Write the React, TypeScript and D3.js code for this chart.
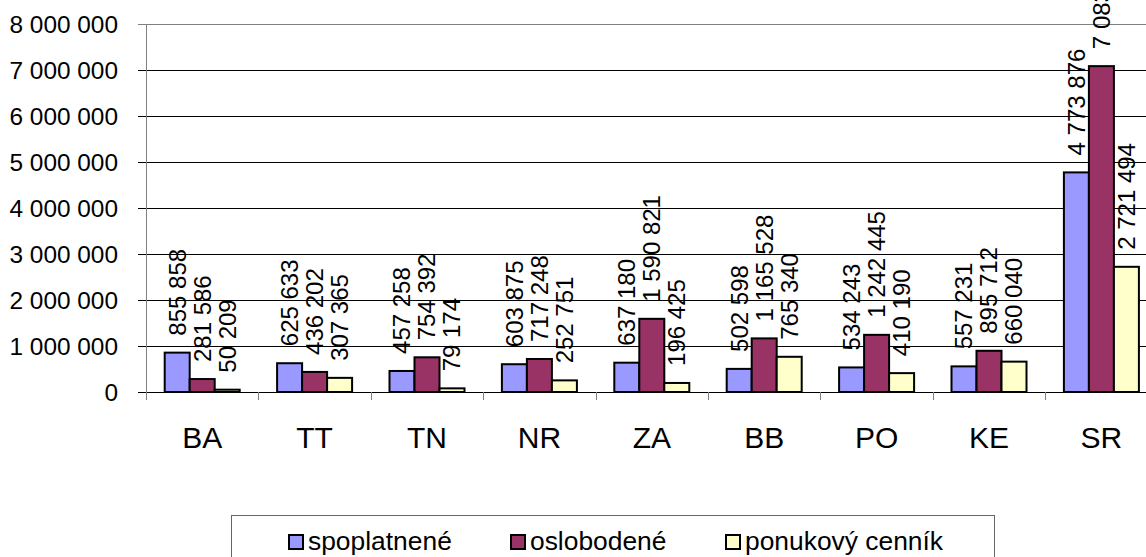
import * as d3 from "d3";

const categories = ["BA", "TT", "TN", "NR", "ZA", "BB", "PO", "KE", "SR"];
const seriesNames = ["spoplatnené", "oslobodené", "ponukový cenník"];
const spoplatnene = [855858, 625633, 457258, 603875, 637180, 502598, 534243, 557231, 4773876];
const oslobodene = [281586, 436202, 754392, 717248, 1590821, 1165528, 1242445, 895712, 7083934];
const ponukovy = [50209, 307365, 79174, 252751, 196425, 765340, 410190, 660040, 2721494];
const yTicks = [0, 1000000, 2000000, 3000000, 4000000, 5000000, 6000000, 7000000, 8000000];

const colors = ["#9999FF", "#993366", "#FFFFCC"];
const font = "'Liberation Sans', Arial, sans-serif";

const W = 1146;
const H = 557;
const plot = { left: 146, top: 24, bottom: 392, catWidth: 112.4 };

// thousands separated by a space, like the source
const fmt = (v: number) => d3.format(",")(v).replace(/,/g, " ");

export default function App() {
  const series = [spoplatnene, oslobodene, ponukovy];

  const x0 = d3
    .scaleBand<string>()
    .domain(categories)
    .range([plot.left, plot.left + plot.catWidth * categories.length])
    .padding(0);

  const x1 = d3
    .scaleBand<number>()
    .domain([0, 1, 2])
    .range([18.7, plot.catWidth - 18.7])
    .padding(0);

  const y = d3.scaleLinear().domain([0, 8000000]).range([plot.bottom, plot.top]);

  const legendX = [289, 511, 726];

  return (
    <svg
      width={W}
      height={H}
      style={{ position: "absolute", left: 0, top: 0, background: "#fff" }}
      fontFamily={font}
    >
      {/* gridlines */}
      {yTicks.map((t) => (
        <line
          key={`g${t}`}
          x1={plot.left - 8}
          x2={W}
          y1={Math.round(y(t)) + 0.5}
          y2={Math.round(y(t)) + 0.5}
          stroke={t === 8000000 ? "#808080" : "#000"}
          strokeWidth={1}
        />
      ))}

      {/* y axis */}
      <line
        x1={plot.left + 0.5}
        x2={plot.left + 0.5}
        y1={plot.top}
        y2={plot.bottom + 8}
        stroke="#808080"
      />
      {yTicks.map((t) => (
        <text
          key={`yl${t}`}
          x={118}
          y={y(t)}
          dy="0.35em"
          textAnchor="end"
          fontSize={24.4}
          fill="#000"
        >
          {fmt(t)}
        </text>
      ))}

      {/* category ticks */}
      {categories.map((c) => (
        <line
          key={`t${c}`}
          x1={Math.round(x0(c)!) + 0.5}
          x2={Math.round(x0(c)!) + 0.5}
          y1={plot.bottom}
          y2={plot.bottom + 8}
          stroke="#808080"
        />
      ))}

      {/* bars */}
      {categories.map((c, i) => (
        <g key={`c${c}`}>
          {series.map((s, j) => {
            const bx = x0(c)! + x1(j)!;
            const bw = x1.bandwidth();
            return (
              <rect
                key={j}
                x={bx}
                y={y(s[i])}
                width={bw}
                height={plot.bottom - y(s[i])}
                fill={colors[j]}
                stroke="#000"
                strokeWidth={2}
              />
            );
          })}
          {series.map((s, j) => {
            const cx = x0(c)! + x1(j)! + x1.bandwidth() / 2;
            const ty = y(s[i]) - 17;
            return (
              <text
                key={`l${j}`}
                transform={`translate(${cx},${ty}) rotate(-90)`}
                dy="0.35em"
                textAnchor="start"
                fontSize={24}
                fill="#000"
              >
                {fmt(s[i])}
              </text>
            );
          })}
          <text
            x={x0(c)! + plot.catWidth / 2}
            y={448}
            textAnchor="middle"
            fontSize={30}
            fill="#000"
          >
            {c}
          </text>
        </g>
      ))}

      {/* legend */}
      <rect x={231.5} y={515.5} width={763} height={80} fill="#fff" stroke="#666" />
      {seriesNames.map((n, j) => (
        <g key={n}>
          <rect
            x={legendX[j]}
            y={535}
            width={14}
            height={14}
            fill={colors[j]}
            stroke="#000"
            strokeWidth={2}
          />
          <text x={legendX[j] + 19} y={550} fontSize={26.4} fill="#000">
            {n}
          </text>
        </g>
      ))}
    </svg>
  );
}
